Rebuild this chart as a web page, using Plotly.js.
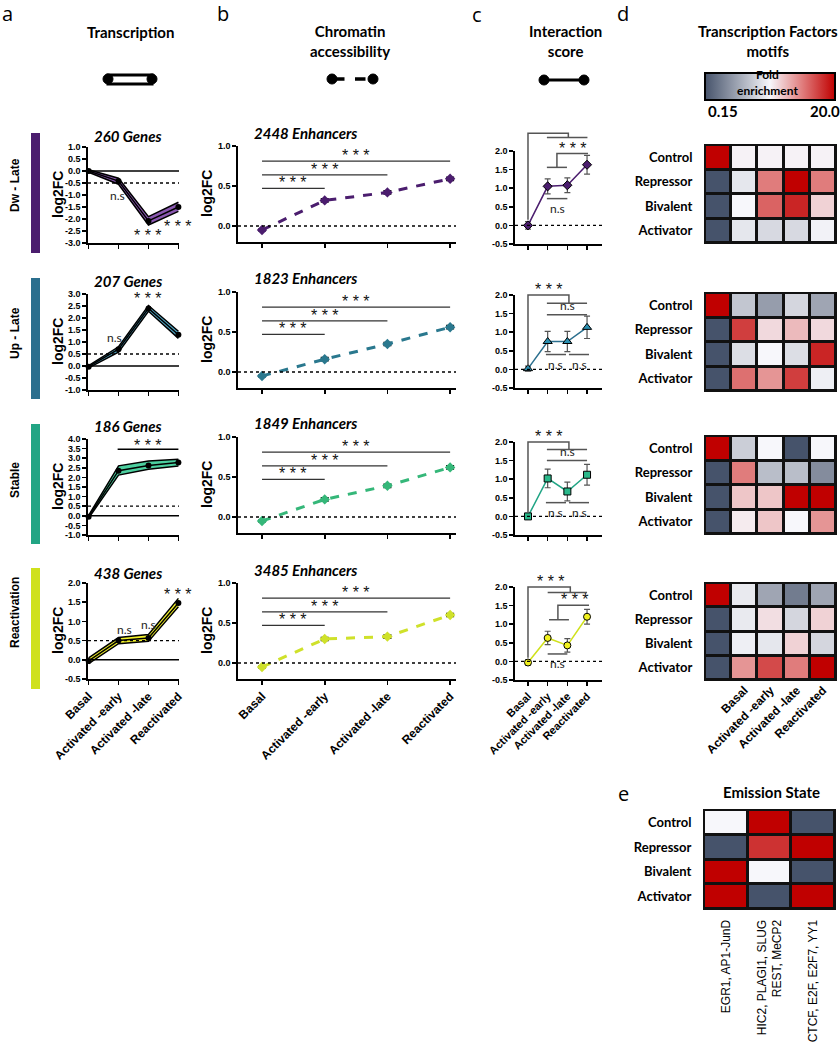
<!DOCTYPE html>
<html><head><meta charset="utf-8">
<script src="https://cdn.plot.ly/plotly-3.0.1.min.js"></script>
<style>html,body{margin:0;padding:0;background:#fff}</style>
</head><body><div id="chart" style="width:840px;height:1050px"></div>
<script>
// ---------------- DATA ----------------
const stages = ['Basal', 'Activated -early', 'Activated -late', 'Reactivated'];
const groups = ['Dw - Late', 'Up - Late', 'Stable', 'Reactivation'];

// Panel a : transcription (log2FC)
const geneCounts = [260, 207, 186, 438];
const txMean  = [[0, -0.42, -2.08, -1.5], [-0.03, 0.7, 2.4, 1.3], [-0.05, 2.35, 2.62, 2.78], [-0.03, 0.5, 0.57, 1.48]];
const txUpper = [[0.05, -0.3, -1.9, -1.3], [0.02, 0.8, 2.52, 1.45], [0.02, 2.6, 2.85, 2.95], [0.05, 0.58, 0.66, 1.6]];
const txLower = [[-0.05, -0.55, -2.25, -1.68], [-0.08, 0.58, 2.28, 1.15], [-0.12, 2.12, 2.42, 2.6], [-0.1, 0.42, 0.48, 1.38]];
const txSigText = [
  [{x: 0.97, y: -1.04, t: 'n.s'}, {x: 2, y: -2.67, t: '***'}, {x: 2.97, y: -2.33, t: '***'}],
  [{x: 0.85, y: 1.2, t: 'n.s'}, {x: 2, y: 2.8, t: '***'}, {x: 3.23, y: 1.96, t: '***'}],
  [{x: 2, y: 3.68, t: '***'}],
  [{x: 1.2, y: 0.8, t: 'n.s'}, {x: 2, y: 0.92, t: 'n.s'}, {x: 2.97, y: 1.69, t: '***'}]
];
const txSigBars = [[], [], [{from: 0.97, to: 3, y: 3.47}], []];

// Panel b : chromatin accessibility (log2FC)
const enhancerCounts = [2448, 1823, 1849, 3485];
const accMean = [[-0.05, 0.32, 0.42, 0.59], [-0.05, 0.16, 0.35, 0.56], [-0.05, 0.22, 0.39, 0.62], [-0.05, 0.30, 0.33, 0.60]];
const accErr  = [[0.01, 0.02, 0.02, 0.02], [0.01, 0.02, 0.02, 0.02], [0.01, 0.02, 0.02, 0.02], [0.01, 0.02, 0.02, 0.02]];
const accSig  = [{from: 0, to: 1, y: 0.47}, {from: 0, to: 2, y: 0.64}, {from: 0, to: 3, y: 0.81}];

// Panel c : interaction score
const intMean = [[0, 1.05, 1.08, 1.63], [0.02, 0.75, 0.75, 1.13], [0, 1.02, 0.67, 1.12], [-0.03, 0.63, 0.43, 1.2]];
const intErr  = [[0.1, 0.2, 0.2, 0.25], [0.07, 0.27, 0.27, 0.3], [0.07, 0.25, 0.25, 0.28], [0.07, 0.18, 0.18, 0.2]];
const intSigPaths = [
  [[[0, 0.15], [0, 2.48], [2.05, 2.48], [2.05, 2.36]], [[0.96, 2.36], [3.02, 2.36]], [[0.96, 1.56], [1.98, 1.56]], [[1.47, 1.56], [1.47, 1.93], [3.05, 1.93]], [[0.96, 0.72], [2.0, 0.72]]],
  [[[0, 0.1], [0, 2.0], [2.08, 2.0], [2.08, 1.78]], [[0.96, 1.78], [3.0, 1.78]], [[0.96, 1.47], [3.0, 1.47]], [[0.91, 0.4], [1.93, 0.4]], [[2.08, 0.4], [3.1, 0.4]]],
  [[[0, 0.1], [0, 2.0], [2.08, 2.0], [2.08, 1.8]], [[0.96, 1.8], [3.0, 1.8]], [[0.96, 1.5], [3.0, 1.5]], [[0.91, 0.37], [1.93, 0.37]], [[2.08, 0.37], [3.1, 0.37]]],
  [[[0, 0.1], [0, 2.0], [2.15, 2.0], [2.15, 1.85]], [[1.0, 1.85], [3.0, 1.85]], [[1.07, 1.12], [2.08, 1.12]], [[1.52, 1.12], [1.52, 1.51], [3.1, 1.51]], [[1.0, 0.2], [2.0, 0.2]]]
];
const intSigText = [
  [{x: 1.05, y: 2.48, t: '***', a: 'above'}, {x: 2.28, y: 1.93, t: '***', a: 'above'}, {x: 1.5, y: 0.72, t: 'n.s', a: 'below'}],
  [{x: 1.07, y: 2.0, t: '***', a: 'above'}, {x: 2.0, y: 1.47, t: 'n.s', a: 'above'}, {x: 1.42, y: 0.4, t: 'n.s', a: 'below'}, {x: 2.6, y: 0.4, t: 'n.s', a: 'below'}],
  [{x: 1.07, y: 2.0, t: '***', a: 'above'}, {x: 2.0, y: 1.5, t: 'n.s', a: 'above'}, {x: 1.42, y: 0.37, t: 'n.s', a: 'below'}, {x: 2.6, y: 0.37, t: 'n.s', a: 'below'}],
  [{x: 1.15, y: 2.0, t: '***', a: 'above'}, {x: 2.39, y: 1.51, t: '***', a: 'above'}, {x: 1.5, y: 0.2, t: 'n.s', a: 'below'}]
];

// Panel d : TF motif fold enrichment (-1 = 0.15, 0 = neutral, 1 = 20.0)
const tfStates = ['Control', 'Repressor', 'Bivalent', 'Activator'];
const tfEnrich = [
  [[1, 0.02, 0.02, 0.02, 0.02], [-1, -0.1, 0.5, 1, 0.5], [-1, 0.0, 0.6, 0.85, 0.15], [-1, -0.1, -0.18, -0.18, -0.03]],
  [[1, -0.3, -0.55, -0.2, -0.5], [-1, 0.75, 0.12, 0.25, 0.12], [-1, -0.15, 0.0, -0.15, 0.85], [-1, 0.55, 0.4, 0.75, -0.05]],
  [[1, -0.25, 0.0, -1, 0.0], [-1, 0.5, -0.35, -0.35, -0.65], [-1, 0.2, 0.2, 1, 1], [-1, 0.05, 0.2, 0.0, 0.4]],
  [[1, -0.08, -0.5, -0.75, -0.5], [-1, -0.08, 0.1, -0.2, 0.15], [-1, -0.05, -0.1, 0.15, -0.2], [-1, 0.4, 0.7, 0.5, 1]]
];
const tfColumnLabels = ['', 'Basal', 'Activated -early', 'Activated -late', 'Reactivated'];

// Panel e : emission state
const emissionMotifs = ['EGR1, AP1-JunD', 'HIC2, PLAGI1, SLUG<br>REST, MeCP2', 'CTCF, E2F, E2F7, YY1'];
const emissionScore = [[0, 1, -1], [-1, 0.8, 1], [1, 0, -1], [1, -1, 1]];

// ---------------- STYLE / LAYOUT ----------------
const groupColors = ['#4b1d6e', '#2b6f8e', '#22a584', '#cfe11c'];
const bandFill = ['#8a58b0', '#4fa6c4', '#4ccf9f', '#f2f22a'];
const accColors = ['#4b1d6e', '#2a788e', '#35b779', '#cfe12a'];
const intColors = ['#4b1d6e', '#2b6f8e', '#21a585', '#d0e11c'];
const intFill = ['#4b1d6e', '#2b8fb0', '#2ab88a', '#f2f21e'];
const intSymbols = ['diamond', 'triangle-up', 'square', 'circle'];
const heatScale = [[0, '#46536b'], [0.5, '#f7f7fb'], [0.75, '#e07c7c'], [1, '#c00000']];

const W = 840, H = 1050;
const px = x => x / W, py = y => 1 - y / H;
const FA = 'Liberation Sans, Arial, sans-serif';
const FC = 'Lato, Calibri, sans-serif';

const data = [], shapes = [], annotations = [];
const layout = {width: W, height: H, margin: {l: 0, r: 0, t: 0, b: 0}, paper_bgcolor: '#fff',
  plot_bgcolor: 'rgba(0,0,0,0)', showlegend: false, shapes, annotations};

let axN = 0;
function addAxes(xpx, ypx, xr, yr, xo, yo) {
  axN++;
  const s = axN === 1 ? '' : String(axN);
  layout['xaxis' + s] = Object.assign({domain: [px(xpx[0]), px(xpx[1])], range: xr, anchor: 'y' + s,
    showgrid: false, zeroline: false, fixedrange: true}, xo);
  layout['yaxis' + s] = Object.assign({domain: [py(ypx[1]), py(ypx[0])], range: yr, anchor: 'x' + s,
    showgrid: false, zeroline: false, fixedrange: true}, yo);
  return {x: 'x' + s, y: 'y' + s, xr, yr};
}
function ticksFor(r, step) {
  const v = [];
  for (let t = Math.ceil(r[0] / step - 1e-9) * step; t <= r[1] + 1e-9; t += step) v.push(Math.round(t * 100) / 100);
  return v;
}
const lineAx = {showline: true, linecolor: '#000', linewidth: 1.6, ticks: 'outside', ticklen: 4, tickwidth: 1.6,
  tickcolor: '#000', tickfont: {family: FA, size: 9, weight: 'bold', color: '#000'}};
function yAx(r, step) {
  const tv = ticksFor(r, step);
  return Object.assign({}, lineAx, {tickvals: tv, ticktext: tv.map(v => v.toFixed(1))});
}
function xAx(show, size) {
  return Object.assign({}, lineAx, {tickvals: [0, 1, 2, 3], ticktext: stages, showticklabels: show, tickangle: -45,
    tickfont: {family: FA, size: size, weight: 'bold', color: '#000'}});
}
const dom = (v, r) => (v - r[0]) / (r[1] - r[0]);
function hline(ax, y, dash, width, color) {
  shapes.push({type: 'line', xref: ax.x + ' domain', yref: ax.y, x0: 0, x1: 1, y0: y, y1: y,
    line: {color: color || '#000', width: width, dash: dash}});
}
function polyline(ax, pts, color, width) {
  const p = pts.map((q, i) => (i ? 'L' : 'M') + dom(q[0], ax.xr).toFixed(4) + ',' + dom(q[1], ax.yr).toFixed(4)).join(' ');
  shapes.push({type: 'path', xref: ax.x + ' domain', yref: ax.y + ' domain', path: p, line: {color: color, width: width}});
}
function label(ax, x, y, t, anchor, shift) {
  const star = t === '***';
  annotations.push({xref: ax.x, yref: ax.y, x: x, y: y, text: star ? '* * *' : t, showarrow: false,
    yanchor: anchor || 'middle', yshift: shift || 0,
    font: star ? {family: FA, size: 16, color: '#111'} : {family: FC, size: 12, color: '#222'}});
}
function paperText(x, y, text, font, extra) {
  annotations.push(Object.assign({xref: 'paper', yref: 'paper', x: px(x), y: py(y), text: text, showarrow: false,
    xanchor: 'center', yanchor: 'middle', font: font}, extra || {}));
}

// geometry (pixels)
const aY = [[147, 243], [294, 390], [439, 535], [583, 679]];
const aRanges = [[-3, 1], [-1, 3], [-1, 4], [-0.5, 2]];
const aDotted = [-0.5, 0.5, 0.5, 0.5];
const bY = [[146, 242], [292, 388], [437, 533], [583, 679]];
const cY = [[151, 244], [295, 388], [442, 535], [587, 680]];
const dY = [[145, 243], [293, 391], [436, 534], [583, 680]];
const sideBars = [[133, 253], [278, 399], [424, 544], [568, 689]];
const sideLabelY = [185, 333, 480, 613];
const titleY = [136, 281, 426, 573];

for (let i = 0; i < 4; i++) {
  // ---- Panel a ----
  let ax = addAxes([88, 179], aY[i], [-0.02, 3.02], aRanges[i], xAx(i === 3, 12), yAx(aRanges[i], 0.5));
  hline(ax, 0, 'solid', 1.6);
  hline(ax, aDotted[i], 'dot', 1.3);
  const xs = [0, 1, 2, 3];
  data.push({type: 'scatter', x: xs, y: txLower[i], xaxis: ax.x, yaxis: ax.y, mode: 'lines', line: {color: '#000', width: 1.5}, hoverinfo: 'skip'});
  data.push({type: 'scatter', x: xs, y: txUpper[i], xaxis: ax.x, yaxis: ax.y, mode: 'lines', fill: 'tonexty',
    fillcolor: bandFill[i], line: {color: '#000', width: 1.5}, hoverinfo: 'skip'});
  data.push({type: 'scatter', x: xs, y: txMean[i], xaxis: ax.x, yaxis: ax.y, mode: 'lines+markers', cliponaxis: false,
    line: {color: '#000', width: 1.5}, marker: {color: '#000', size: 6}});
  txSigText[i].forEach(s => label(ax, s.x, s.y, s.t));
  txSigBars[i].forEach(s => polyline(ax, [[s.from, s.y], [s.to, s.y]], '#000', 1.5));
  paperText(128, titleY[i], '<i>' + geneCounts[i] + ' Genes</i>', {family: FC, size: 15, weight: 'bold', color: '#000'});
  paperText(58, (aY[i][0] + aY[i][1]) / 2, 'log2FC', {family: FA, size: 14, weight: 'bold', color: '#000'}, {textangle: -90});
  shapes.push({type: 'rect', xref: 'paper', yref: 'paper', x0: px(31), x1: px(40), y0: py(sideBars[i][1]), y1: py(sideBars[i][0]),
    fillcolor: groupColors[i], line: {width: 0}});
  paperText(15, sideLabelY[i], groups[i], {family: FA, size: 12, weight: 'bold', color: '#000'}, {textangle: -90});

  // ---- Panel b ----
  ax = addAxes([238, 456], bY[i], [-0.383, 3.094], [-0.2, 1.0], xAx(i === 3, 12),
    Object.assign({}, lineAx, {tickvals: [0, 0.5, 1.0], ticktext: ['0.0', '0.5', '1.0']}));
  hline(ax, 0, 'dot', 1.3);
  data.push({type: 'scatter', x: xs, y: accMean[i], xaxis: ax.x, yaxis: ax.y, mode: 'lines+markers', cliponaxis: false,
    line: {color: accColors[i], width: 3, dash: 'dash'}, marker: {symbol: 'diamond', size: 8, color: accColors[i]},
    error_y: {type: 'data', array: accErr[i], color: '#000', thickness: 1.5, width: 4}});
  accSig.forEach(s => {
    polyline(ax, [[s.from, s.y], [s.to, s.y]], '#333', 1.2);
    label(ax, (s.from + s.to) / 2, s.y, '***', 'bottom', -5);
  });
  paperText(305, titleY[i] - 3, '<i>' + enhancerCounts[i] + ' Enhancers</i>', {family: FC, size: 15, weight: 'bold', color: '#000'});
  paperText(207, (bY[i][0] + bY[i][1]) / 2, 'log2FC', {family: FA, size: 14, weight: 'bold', color: '#000'}, {textangle: -90});

  // ---- Panel c ----
  ax = addAxes([515, 602], cY[i], [-0.66, 3.76], [-0.5, 2.0], xAx(i === 3, 11), yAx([-0.5, 2.0], 0.5));
  hline(ax, 0, 'dot', 1.3);
  data.push({type: 'scatter', x: xs, y: intMean[i], xaxis: ax.x, yaxis: ax.y, mode: 'lines+markers', cliponaxis: false,
    line: {color: intColors[i], width: 1.5},
    marker: {symbol: intSymbols[i], size: i === 1 ? 8 : 7, color: intFill[i], line: {color: '#000', width: 1}},
    error_y: {type: 'data', array: intErr[i], color: '#555', thickness: 1.2, width: 3}});
  intSigPaths[i].forEach(p => polyline(ax, p, '#555', 1.5));
  intSigText[i].forEach(s => label(ax, s.x, s.y, s.t, s.a === 'above' ? 'bottom' : 'top', s.t === '***' ? -5 : 0));

  // ---- Panel d ----
  ax = addAxes([705, 836], dY[i], [-0.5, 4.5], [3.5, -0.5],
    {showline: false, ticks: '', tickvals: [0, 1, 2, 3, 4], ticktext: tfColumnLabels, showticklabels: i === 3, tickangle: -45,
      tickfont: {family: FA, size: 12, weight: 'bold', color: '#000'}},
    {showline: false, ticks: 'outside', ticklen: 9, tickcolor: 'rgba(0,0,0,0)', tickvals: [0, 1, 2, 3], ticktext: tfStates,
      tickfont: {family: FC, size: 13, weight: 'bold', color: '#000'}});
  shapes.push({type: 'rect', xref: ax.x + ' domain', yref: ax.y + ' domain', x0: 0, x1: 1, y0: 0, y1: 1, layer: 'below',
    fillcolor: '#111', line: {color: '#111', width: 2}});
  const hm = {type: 'heatmap', z: tfEnrich[i], x: [0, 1, 2, 3, 4], y: [0, 1, 2, 3], xaxis: ax.x, yaxis: ax.y,
    zmin: -1, zmax: 1, colorscale: heatScale, xgap: 3, ygap: 3, showscale: i === 0, hoverinfo: 'skip'};
  if (i === 0) {
    hm.colorbar = {orientation: 'h', x: px(770), xanchor: 'center', y: py(73), yanchor: 'top', len: 130, lenmode: 'pixels',
      thickness: 27, thicknessmode: 'pixels', outlinewidth: 2, outlinecolor: '#000', showticklabels: false, ticks: '',
      xpad: 0, ypad: 0};
  }
  data.push(hm);
}

// ---- Panel e ----
const axE = addAxes([704, 835], [810, 909], [-0.5, 2.5], [3.5, -0.5],
  {showline: false, ticks: 'outside', ticklen: 5, tickcolor: 'rgba(0,0,0,0)', tickvals: [0, 1, 2], ticktext: emissionMotifs, tickangle: -90,
    tickfont: {family: FA, size: 12, color: '#000'}},
  {showline: false, ticks: 'outside', ticklen: 9, tickcolor: 'rgba(0,0,0,0)', tickvals: [0, 1, 2, 3], ticktext: tfStates,
    tickfont: {family: FC, size: 13, weight: 'bold', color: '#000'}});
shapes.push({type: 'rect', xref: axE.x + ' domain', yref: axE.y + ' domain', x0: 0, x1: 1, y0: 0, y1: 1, layer: 'below',
  fillcolor: '#111', line: {color: '#111', width: 2}});
data.push({type: 'heatmap', z: emissionScore, x: [0, 1, 2], y: [0, 1, 2, 3], xaxis: axE.x, yaxis: axE.y,
  zmin: -1, zmax: 1, colorscale: heatScale, xgap: 3, ygap: 3, showscale: false, hoverinfo: 'skip'});

// ---- headers ----
const hFont = {family: FC, size: 15, weight: 'bold', color: '#000'};
paperText(130, 32, 'Transcription', hFont);
paperText(350, 41, 'Chromatin<br>accessibility', hFont);
paperText(565, 41, 'Interaction<br>score', hFont);
paperText(768, 41, 'Transcription Factors<br>motifs', hFont);
paperText(771, 792, 'Emission State', hFont);
paperText(767, 83, 'Fold<br>enrichment', {family: FC, size: 12, weight: 'bold', color: '#000'});
paperText(723, 111, '0.15', {family: FC, size: 15, weight: 'bold', color: '#000'});
paperText(825, 111, '20.0', {family: FC, size: 15, weight: 'bold', color: '#000'});
const letterFont = {family: 'Open Sans, sans-serif', size: 20, color: '#000'};
[['a', 7, 14], ['b', 223, 14], ['c', 477, 15], ['d', 623, 14], ['e', 623, 793]].forEach(l => paperText(l[1], l[2], l[0], letterFont));

// legend icons
shapes.push({type: 'rect', xref: 'paper', yref: 'paper', x0: px(108), x1: px(152), y0: py(84), y1: py(75),
  fillcolor: '#fff', line: {color: '#000', width: 3}});
[[108, 79], [152, 79], [332, 79], [373, 79], [544, 80], [584, 80]].forEach(c =>
  shapes.push({type: 'circle', xref: 'paper', yref: 'paper', x0: px(c[0] - 5), x1: px(c[0] + 5), y0: py(c[1] + 5), y1: py(c[1] - 5),
    fillcolor: '#000', line: {color: '#000', width: 1}}));
shapes.push({type: 'line', xref: 'paper', yref: 'paper', x0: px(334), x1: px(371), y0: py(79), y1: py(79), line: {color: '#000', width: 3.5, dash: 'dash'}});
shapes.push({type: 'line', xref: 'paper', yref: 'paper', x0: px(546), x1: px(582), y0: py(80), y1: py(80), line: {color: '#000', width: 3}});

Plotly.newPlot('chart', data, layout, {staticPlot: true, displayModeBar: false});
</script>
</body></html>
